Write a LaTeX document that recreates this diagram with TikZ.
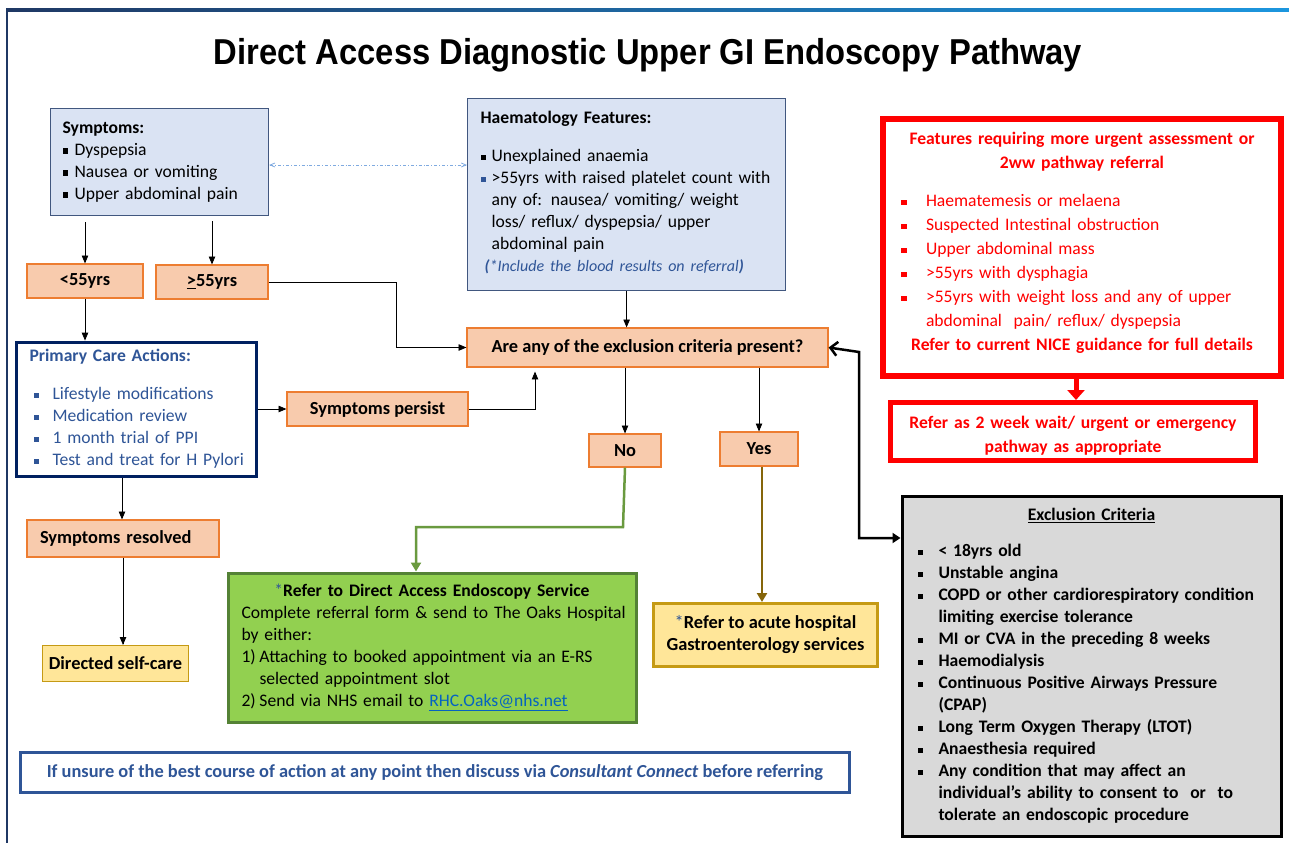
\documentclass[tikz,border=0pt]{standalone}
\usepackage{fontspec}
\setmainfont{Carlito}
\newfontfamily\titlefont{Liberation Sans}
\usetikzlibrary{arrows, arrows.meta}

\definecolor{symfill}{HTML}{DAE3F3}
\definecolor{symline}{HTML}{41577F}
\definecolor{agefill}{HTML}{F8CBAD}
\definecolor{ageline}{HTML}{ED7D31}
\definecolor{carefill}{HTML}{FFE699}
\definecolor{careline}{HTML}{C59A14}
\definecolor{okfill}{HTML}{92D050}
\definecolor{okline}{HTML}{548235}
\definecolor{navy}{HTML}{002060}
\definecolor{textblue}{HTML}{2F5597}
\definecolor{urgent}{HTML}{FF0000}
\definecolor{exfill}{HTML}{D9D9D9}
\definecolor{noline}{HTML}{6A9A3F}
\definecolor{yesline}{HTML}{85650A}
\definecolor{linkblue}{HTML}{0563C1}
\definecolor{dotblue}{HTML}{7FAAE0}
\definecolor{frameleft}{HTML}{1F3864}
\definecolor{frameright}{HTML}{1C96DE}

\newcommand{\bul}{\raisebox{0.18ex}{\rule{0.32em}{0.32em}}}
\newcommand{\itm}[1]{\makebox[#1pt][l]{\bul}}
\newcommand{\body}{\fontsize{17.6}{22}\selectfont}
\newcommand{\boxfont}{\fontsize{18.4}{22}\selectfont}

\tikzstyle{arrow} = [->, >=triangle 45, line width=0.8pt]
\tikzstyle{line} = [line width=0.8pt]
\tikzstyle{agebox} = [draw=ageline, fill=agefill, line width=1.2pt, font=\boxfont\bfseries, align=center, inner sep=0pt]
\tikzstyle{listbox} = [anchor=north west, align=left, inner ysep=0pt, font=\body]

\begin{document}
\begin{tikzpicture}[x=1pt, y=-1pt]
    \useasboundingbox (0,0) rectangle (1289,843);

    % page frame
    \shade[left color=frameleft, right color=frameright] (6,8.5) rectangle (1289,11.5);
    \draw[frameleft, line width=2.2pt] (7,9) -- (7,843);

    \node (title) at (648,55) {\titlefont\bfseries\fontsize{36}{40}\selectfont\scalebox{0.91}[1]{Direct Access Diagnostic Upper GI Endoscopy Pathway}};

    % left column
    \node (sym) [listbox, draw=symline, fill=symfill, line width=1.2pt, text width=194pt, inner xsep=12pt, minimum height=107pt] at (50,108) {%
        \textbf{Symptoms:}\\
        \itm{12}Dyspepsia\\
        \itm{12}Nausea or vomiting\\
        \itm{12}Upper abdominal pain};
    \node (lt55) [agebox, minimum width=116pt, minimum height=34pt] at (85,281) {<55yrs};
    \node (ge55) [agebox, minimum width=112pt, minimum height=34pt] at (212,282) {\underline{>}55yrs};
    \node (primary) [listbox, draw=navy, fill=white, line width=3pt, text width=213pt, inner xsep=13.5pt, minimum height=134pt, text=textblue] at (14.5,340.5) {%
        \textbf{Primary Care Actions:}\\[16pt]
        \hspace*{4pt}\itm{19}Lifestyle modifications\\
        \hspace*{4pt}\itm{19}Medication review\\
        \hspace*{4pt}\itm{19}1 month trial of PPI\\
        \mbox{\hspace*{4pt}\itm{19}Test and treat for H Pylori}};
    \node (persist) [agebox, minimum width=181pt, minimum height=34pt] at (377.5,409) {Symptoms persist};
    \node (resolved) [agebox, minimum width=192pt, minimum height=37pt, text width=166pt, align=left] at (123,538.5) {Symptoms resolved};
    \node (selfcare) [agebox, draw=careline, fill=carefill, minimum width=146pt, minimum height=36pt] at (115.5,663.5) {Directed self-care};

    % middle column
    \node (haema) [listbox, draw=symline, fill=symfill, line width=1.2pt, text width=292pt, inner xsep=13pt, minimum height=192pt] at (467,98) {%
        \textbf{Haematology Features:}\\[16pt]
        \itm{11}Unexplained anaemia\\
        \mbox{{\color{textblue}\itm{11}}>55yrs with raised platelet count with}\\
        \hspace*{11pt}any of: nausea/ vomiting/ weight\\
        \hspace*{11pt}loss/ reflux/ dyspepsia/ upper\\
        \hspace*{11pt}abdominal pain\\
        \mbox{\hspace*{4pt}{\color{textblue}\fontsize{16}{22}\selectfont\itshape{\bfseries(}*Include the blood results on referral{\bfseries)}}}\rule[-6pt]{0pt}{6pt}};
    \node (question) [agebox, minimum width=361pt, minimum height=39pt] at (647.5,347.5) {Are any of the exclusion criteria present?};
    \node (no) [agebox, minimum width=72pt, minimum height=33pt] at (625,450.5) {No};
    \node (yes) [agebox, minimum width=78pt, minimum height=34pt] at (759,449) {Yes};
    \node (direct) [listbox, draw=okline, fill=okfill, line width=3pt, text width=381pt, inner xsep=13.5pt, minimum height=149pt] at (226.5,571.5) {%
        \makebox[381pt][c]{{\color{textblue}*}\textbf{Refer to Direct Access Endoscopy Service}}\\
        \mbox{Complete referral form \& send to The Oaks Hospital}\\
        by either:\\
        \mbox{\makebox[18pt][l]{1)}Attaching to booked appointment via an E-RS}\\
        \hspace*{18pt}selected appointment slot\\
        \mbox{\makebox[18pt][l]{2)}Send via NHS email to {\color{linkblue}\underline{RHC.Oaks@nhs.net}}}};
    \node (acute) [agebox, draw=careline, fill=carefill, line width=3pt, minimum width=224pt, minimum height=63pt] at (765.5,635) {{\color{textblue}\mdseries*}Refer to acute hospital\\Gastroenterology services};

    % right column
    \node (urgentbox) [listbox, draw=urgent, fill=white, line width=6pt, text width=362pt, inner xsep=18pt, minimum height=257pt, text=urgent, font=\fontsize{17.6}{24}\selectfont] at (880,116) {%
        \makebox[362pt][c]{\bfseries Features requiring more urgent assessment or}\\
        \makebox[362pt][c]{\bfseries 2ww pathway referral}\\[14pt]
        \itm{25}Haematemesis or melaena\\
        \itm{25}Suspected Intestinal obstruction\\
        \itm{25}Upper abdominal mass\\
        \itm{25}>55yrs with dysphagia\\
        \mbox{\itm{25}>55yrs with weight loss and any of upper}\\
        \hspace*{25pt}abdominal\ \ pain/ reflux/ dyspepsia\\
        \makebox[362pt][c]{\bfseries Refer to current NICE guidance for full details}\rule[-12pt]{0pt}{12pt}};
    \node (twoweek) [draw=urgent, fill=white, line width=5pt, minimum width=365pt, minimum height=58pt, text width=345pt, inner xsep=10pt, text=urgent, align=center, font=\fontsize{17.6}{24}\selectfont\bfseries] at (1073,431.5) {%
        \rule{0pt}{21pt}Refer as 2 week wait/ urgent or emergency\\pathway as appropriate};
    \node (exclusion) [listbox, draw=black, fill=exfill, line width=3pt, text width=348pt, inner xsep=15.5pt, minimum height=340pt, font=\body\bfseries] at (900.5,494.5) {%
        \makebox[348pt][c]{\underline{Exclusion Criteria}}\\[14pt]
        \itm{21}< 18yrs old\\
        \itm{21}Unstable angina\\
        \mbox{\itm{21}COPD or other cardiorespiratory condition}\\
        \hspace*{21pt}limiting exercise tolerance\\
        \itm{21}MI or CVA in the preceding 8 weeks\\
        \itm{21}Haemodialysis\\
        \mbox{\itm{21}Continuous Positive Airways Pressure}\\
        \hspace*{21pt}(CPAP)\\
        \itm{21}Long Term Oxygen Therapy (LTOT)\\
        \itm{21}Anaesthesia required\\
        \itm{21}Any condition that may affect an\\
        \mbox{\hspace*{21pt}individual's ability to consent to\ \ or\ \ to}\\
        \hspace*{21pt}tolerate an endoscopic procedure};

    \node (note) [draw=textblue, fill=white, line width=3pt, minimum width=829pt, minimum height=40pt, text=textblue, font=\boxfont\bfseries] at (435,772.5) {If unsure of the best course of action at any point then discuss via \textit{Consultant Connect} before referring};

    % bends and guides
    \coordinate (dotrow) at (0,165);
    \coordinate (bendage) at (396,282);
    \coordinate (bendpersist) at (535,409);
    \coordinate (bendno) at (623,527);
    \coordinate (greenin) at (416,0);
    \coordinate (leftcol) at (122,0);
    \coordinate (yescol) at (762,0);
    \coordinate (redcol) at (1076,0);
    \coordinate (bendloop) at (859,352);
    \coordinate (looprow) at (0,538);

    % connectors
    \draw[dotblue, line width=0.8pt, dash dot, <->, >=angle 45] (sym.east |- dotrow) -- (haema.west |- dotrow);
    \draw[arrow, shorten <=6pt] (lt55 |- sym.south) -- (lt55);
    \draw[arrow, shorten <=5pt] (ge55 |- sym.south) -- (ge55);
    \draw[arrow] (ge55.east) -- (bendage) |- (question.west);
    \draw[arrow] (haema.south) -- (haema.south |- question.north);
    \draw[arrow] (lt55.south) -- (lt55.south |- primary.north);
    \draw[arrow] (primary.east |- persist) -- (persist);
    \draw[arrow, shorten >=4pt] (persist.east) -- (bendpersist) -- (bendpersist |- question.south);
    \draw[arrow] (no |- question.south) -- (no);
    \draw[arrow] (yes |- question.south) -- (yes);
    \draw[arrow] (leftcol |- primary.south) -- (leftcol |- resolved.north);
    \draw[arrow] (resolved.south) -- (resolved.south |- selfcare.north);
    \draw[noline, line width=2.5pt, -{Triangle[width=10pt,length=9pt]}] (no.south) -- (bendno) -| (greenin |- direct.north);
    \draw[yesline, line width=2.5pt, -{Triangle[width=10pt,length=9pt]}] (yescol |- yes.south) -- (yescol |- acute.north);
    \draw[line width=2.5pt, {Straight Barb[width=14pt,length=7pt]}-{Triangle[width=10pt,length=8pt]}] (question.east) -- (bendloop) |- (exclusion.west |- looprow);
    \draw[urgent, line width=5pt, -{Triangle[width=17pt,length=10pt]}] (redcol |- urgentbox.south) -- (redcol |- twoweek.north);
\end{tikzpicture}
\end{document}
